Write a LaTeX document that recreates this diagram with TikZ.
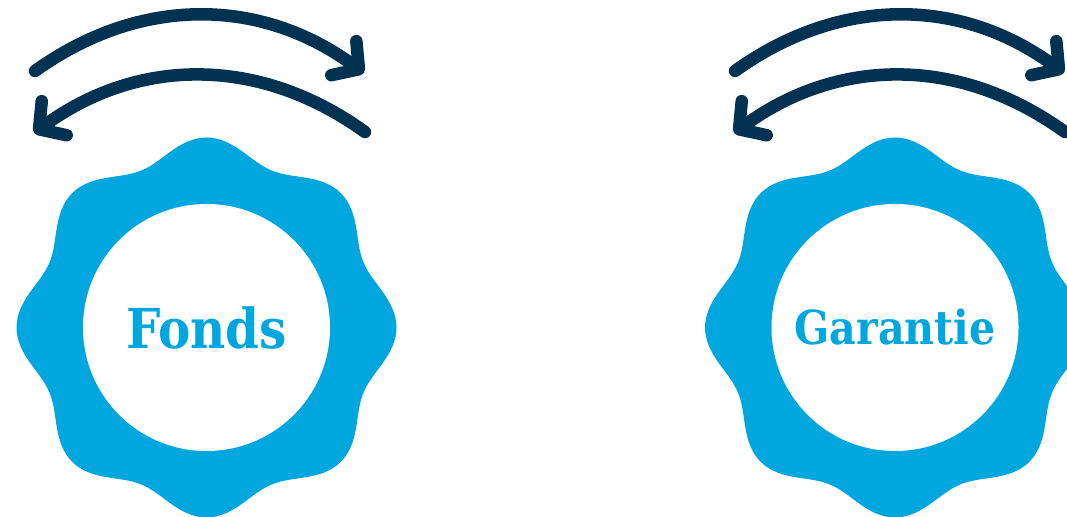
\documentclass[tikz,border=0pt]{standalone}
\usepackage{fontspec}
\setmainfont{DejaVu Serif}[FakeStretch=0.88]
\usetikzlibrary{arrows.meta}
\definecolor{gearblue}{RGB}{0,166,222}
\definecolor{swingnavy}{RGB}{2,50,82}
\tikzset{
  gear/.style={fill=gearblue},
  hub/.style={circle, fill=white, inner sep=0pt, minimum size=7.41cm, text=gearblue},
  swing/.style={draw=swingnavy, line width=10.7pt, line cap=round,
    -{Straight Barb[length=16pt,width=36pt,round]}}
}
\begin{document}
\begin{tikzpicture}[x=0.03cm,y=0.03cm]
  \useasboundingbox (0,0) rectangle (1067,517);
  \foreach \cx/\ax/\nm/\txt/\fs in {206.5/0/fonds/Fonds/47, 895/700/garantie/Garantie/40}{
    % wavy gear with eight lobes
    \fill[gear] plot[domain=0:360, samples=241, variable=\t]
      ({\cx+(180+10*cos(8*\t))*cos(\t)}, {189.5+(180+10*cos(8*\t))*sin(\t)}) -- cycle;
    \node[hub, font=\bfseries\fontsize{\fs}{\fs}\selectfont] (\nm) at (\cx,189.5) {\txt};
    % swing arrows
    \coordinate (\nm-a) at (\ax+35,446);
    \coordinate (\nm-b) at (\ax+364,444);
    \coordinate (\nm-c) at (\ax+365,385);
    \coordinate (\nm-d) at (\ax+34,384);
    \draw[swing] (\nm-a) to[bend left=36] (\nm-b);
    \draw[swing] (\nm-c) to[bend right=36] (\nm-d);
  }
\end{tikzpicture}
\end{document}
